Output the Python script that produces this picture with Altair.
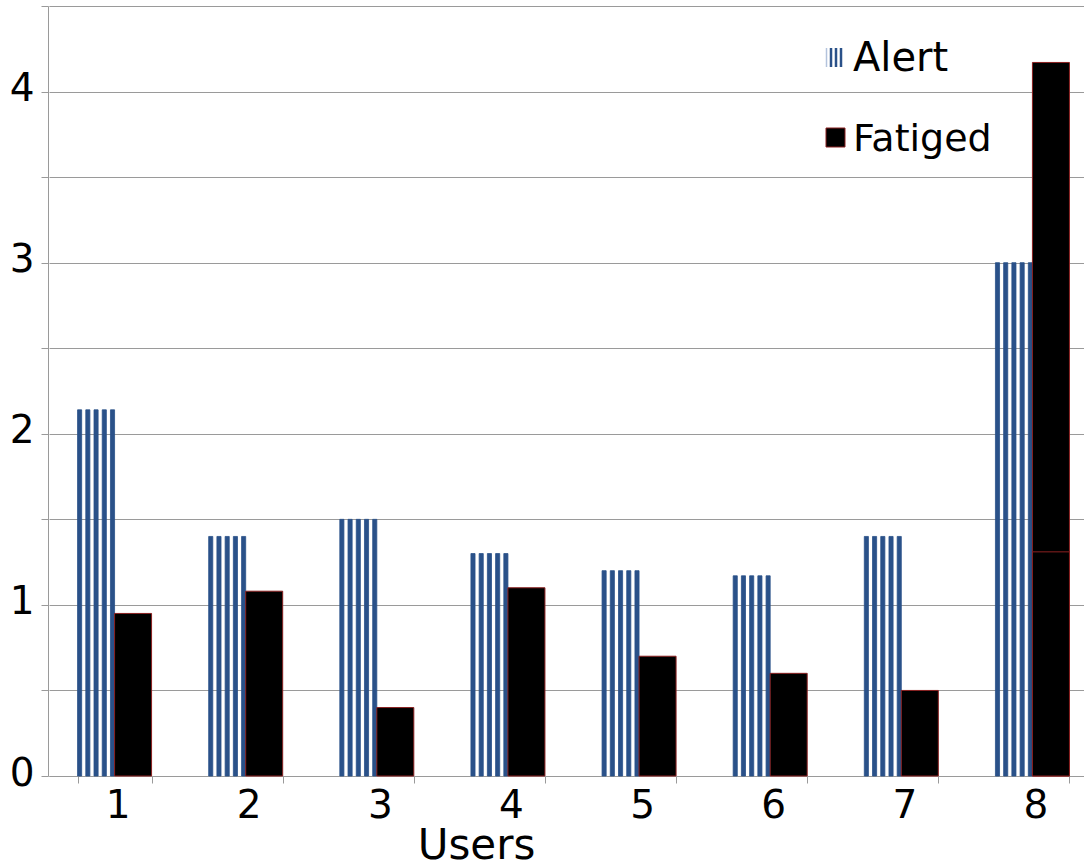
import altair as alt
import pandas as pd

# ---- data ----
users = ["1", "2", "3", "4", "5", "6", "7", "8"]
alert = [2.14, 1.40, 1.50, 1.30, 1.20, 1.17, 1.40, 3.00]
fatiged = [0.95, 1.08, 0.40, 1.10, 0.70, 0.60, 0.50, 4.17]
overlap_users = ["8"]
overlap_values = [1.31]
series = ["Alert", "Fatiged"]
stripe_slots = [str(i) for i in range(18)]
blue_slots = ["0", "2", "4", "6", "8"]
y_ticks = [0, 0.5, 1, 1.5, 2, 2.5, 3, 3.5, 4, 4.5]

ALERT_BLUE = "#2a5189"
EDGE_BLUE = "#b3c3dc"
GRID = "#9a9a9a"
FONT = "DejaVu Sans"

fat_df = pd.DataFrame({"user": users, "series": "Fatiged", "value": fatiged})
ov_df = pd.DataFrame({"user": overlap_users, "series": "Fatiged", "value": overlap_values})
stripe_rows = []
for u, v in zip(users, alert):
    for s in blue_slots:
        stripe_rows.append({"user": u, "slot": s, "value": v})
stripe_df = pd.DataFrame(stripe_rows)

x_scale = alt.Scale(domain=users, range=[1, 1050], paddingInner=0.4355, paddingOuter=0.2178)
y_scale = alt.Scale(domain=[0, 4.5], nice=False, zero=True)

x_axis = alt.Axis(
    title="Users", tickBand="extent", tickSize=7, labelAngle=0,
    labelFont=FONT, labelFontSize=39, labelColor="black", labelBaseline="alphabetic",
    labelPadding=34, labelOffset=3,
    titleFont=FONT, titleFontSize=42, titleFontWeight="normal",
    titleColor="black", titleX=428, titleY=82, titleBaseline="alphabetic",
    titleAnchor="middle", domainColor=GRID, tickColor=GRID, grid=False,
)
y_axis = alt.Axis(
    values=y_ticks, labelExpr="datum.value % 1 == 0 ? toString(datum.value) : ''",
    title=None, tickSize=7, grid=True, gridColor=GRID, tickColor=GRID,
    domainColor=GRID, labelFont=FONT, labelFontSize=39, labelColor="black",
    labelPadding=7, labelBaseline="middle", labelOffset=-3,
)

x_enc = alt.X("user:N", scale=x_scale, axis=x_axis)
y_enc = alt.Y("value:Q", scale=y_scale, axis=y_axis)

fat_layer = alt.Chart(fat_df).mark_bar(color="black", stroke="#8b2020", strokeWidth=1).encode(
    x=x_enc, y=y_enc,
    xOffset=alt.XOffset("series:N", scale=alt.Scale(domain=series, paddingInner=0, paddingOuter=0)),
)
ov_layer = alt.Chart(ov_df).mark_bar(color="black", stroke="#8b2020", strokeWidth=1).encode(
    x=x_enc, y=y_enc,
    xOffset=alt.XOffset("series:N", scale=alt.Scale(domain=series, paddingInner=0, paddingOuter=0)),
)
bars = alt.layer(fat_layer, ov_layer)

stripes = alt.Chart(stripe_df).mark_bar(color=ALERT_BLUE, stroke=ALERT_BLUE, strokeWidth=0.8).encode(
    x=x_enc, y=y_enc,
    xOffset=alt.XOffset("slot:N", scale=alt.Scale(domain=stripe_slots, paddingInner=0, paddingOuter=0)),
)

one = alt.Data(values=[{"k": 1}])
leg_alert_text = alt.Chart(one).mark_text(
    text="Alert", font=FONT, fontSize=40, align="left", baseline="alphabetic", color="black"
).encode(x=alt.value(805), y=alt.value(65))
leg_fat_text = alt.Chart(one).mark_text(
    text="Fatiged", font=FONT, fontSize=38, align="left", baseline="alphabetic", color="black"
).encode(x=alt.value(805), y=alt.value(145))
leg_fat_sym = alt.Chart(one).mark_rect(color="black", stroke="#8b2020", strokeWidth=1).encode(
    x=alt.value(778), x2=alt.value(797), y=alt.value(122), y2=alt.value(141)
)
leg_stripes = [
    alt.Chart(one).mark_rule(color=c, strokeWidth=w).encode(
        x=alt.value(xv), y=alt.value(42), y2=alt.value(61)
    )
    for xv, w, c in [(778.5, 1.5, EDGE_BLUE), (783, 2.5, ALERT_BLUE), (788, 2.5, ALERT_BLUE), (793, 2.5, ALERT_BLUE)]
]

chart = alt.layer(
    stripes, bars, leg_alert_text, leg_fat_text, leg_fat_sym, *leg_stripes
).resolve_scale(xOffset="independent").properties(
    width=1036, height=770,
    autosize=alt.AutoSizeParams(type="none"),
    padding={"left": 48, "top": 6, "right": 0, "bottom": 92},
).configure_view(stroke=None).configure(background="white")

chart.save("out.html", embed_options={"renderer": "svg", "actions": False})
